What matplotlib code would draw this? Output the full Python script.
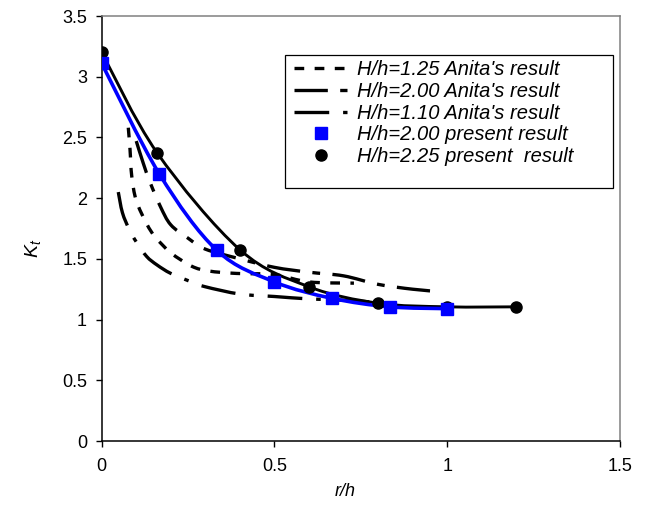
import matplotlib
matplotlib.use("Agg")
import matplotlib.pyplot as plt
import numpy as np
from matplotlib.path import Path
from matplotlib.patches import PathPatch, Rectangle
from matplotlib.lines import Line2D

x_a125 = [0.077, 0.082, 0.087, 0.10, 0.13, 0.155, 0.20, 0.26, 0.31, 0.39, 0.50, 0.60, 0.73]
y_a125 = [2.58, 2.40, 2.18, 1.98, 1.79, 1.68, 1.55, 1.44, 1.40, 1.38, 1.37, 1.31, 1.30]

x_a200 = [0.10, 0.12, 0.14, 0.17, 0.20, 0.25, 0.30, 0.40, 0.50, 0.60, 0.70, 0.80, 0.90, 0.98]
y_a200 = [2.47, 2.29, 2.13, 1.93, 1.78, 1.67, 1.58, 1.50, 1.43, 1.39, 1.36, 1.29, 1.25, 1.23]

x_a110 = [0.048, 0.06, 0.08, 0.10, 0.13, 0.16, 0.20, 0.26, 0.30, 0.40, 0.50, 0.60, 0.70, 0.80]
y_a110 = [2.05, 1.88, 1.74, 1.64, 1.52, 1.45, 1.38, 1.31, 1.27, 1.21, 1.19, 1.17, 1.16, 1.14]

# present results
x_p200 = [0, 1/6, 1/3, 0.5, 2/3, 5/6, 1.0]
y_p200 = [3.11, 2.20, 1.57, 1.31, 1.175, 1.105, 1.09]

x_p225 = [0, 0.16, 0.40, 0.60, 0.80, 1.00, 1.20]
y_p225 = [3.20, 2.375, 1.575, 1.27, 1.135, 1.105, 1.105]

labels = ["H/h=1.25 Anita's result", "H/h=2.00 Anita's result", "H/h=1.10 Anita's result",
          "H/h=2.00 present result", "H/h=2.25 present  result"]

plt.rcParams['font.family'] = ['Liberation Sans', 'DejaVu Sans']
plt.rcParams['lines.scale_dashes'] = False
plt.rcParams['mathtext.fontset'] = 'custom'
plt.rcParams['mathtext.it'] = 'Liberation Sans:italic'
plt.rcParams['mathtext.rm'] = 'Liberation Sans'


def smooth_path(xs, ys):
    # Excel-style smoothed line: cubic bezier through the points
    p = np.column_stack([xs, ys])
    ext = np.vstack([p[0], p, p[-1]])
    verts = [p[0]]
    codes = [Path.MOVETO]
    for i in range(len(p) - 1):
        p0, p1, p2, p3 = ext[i], ext[i + 1], ext[i + 2], ext[i + 3]
        verts += [p1 + (p2 - p0) / 6, p2 - (p3 - p1) / 6, p2]
        codes += [Path.CURVE4] * 3
    return Path(verts, codes)


dash125 = (0, (7, 7.5))
dash200 = (0, (24, 8.9, 5.6, 8.9))
dash110 = (0, (25, 10, 3.3, 10))

fig = plt.figure(figsize=(6.48, 5.08), dpi=100)
ax = fig.add_axes([101.7 / 648, 67 / 508, (620 - 101.7) / 648, (441 - 16) / 508])

for xs, ys, ls in [(x_a125, y_a125, dash125), (x_a200, y_a200, dash200), (x_a110, y_a110, dash110)]:
    ax.add_patch(PathPatch(smooth_path(xs, ys), fill=False, edgecolor='black',
                           linewidth=2.4, linestyle=ls, capstyle='butt'))

ax.add_patch(PathPatch(smooth_path(x_p225, y_p225), fill=False, edgecolor='black', linewidth=2.1))
ax.plot(x_p225, y_p225, 'o', color='black', markersize=8, zorder=4)
ax.add_patch(PathPatch(smooth_path(x_p200, y_p200), fill=False, edgecolor='#0000ff', linewidth=2.6,
                       zorder=3))
ax.plot(x_p200, y_p200, 's', color='#0000ff', markersize=8.5, zorder=5)

ax.set_xlim(0, 1.5)
ax.set_ylim(0, 3.5)
ax.set_xticks([0, 0.5, 1, 1.5])
ax.set_xticklabels(['0', '0.5', '1', '1.5'])
ax.set_yticks(np.arange(0, 3.51, 0.5))
ax.set_yticklabels(['0', '0.5', '1', '1.5', '2', '2.5', '3', '3.5'])
ax.tick_params(axis='both', direction='out', length=4.5, width=1, labelsize=13, colors='black')
ax.tick_params(axis='x', pad=8)
ax.tick_params(axis='y', pad=6)
for s in ['left', 'bottom']:
    ax.spines[s].set_color('black')
    ax.spines[s].set_linewidth(1.1)
for s in ['top', 'right']:
    ax.spines[s].set_color('#808080')
    ax.spines[s].set_linewidth(1.1)

fig.text(345 / 648, 1 - 492 / 508, 'r/h', fontsize=13, style='italic', ha='center', va='center')
fig.text(33 / 648, 1 - 248 / 508, r'$K_t$', fontsize=14, rotation=90, ha='center', va='center')

handles = [
    Line2D([], [], color='black', lw=2.4, linestyle=dash125),
    Line2D([], [], color='black', lw=2.4, linestyle=dash200),
    Line2D([], [], color='black', lw=2.4, linestyle=dash110),
    Line2D([], [], color='#0000ff', marker='s', linestyle='none', markersize=8.5),
    Line2D([], [], color='black', marker='o', linestyle='none', markersize=8),
]
leg = ax.legend(handles, labels, loc='upper left', bbox_to_anchor=(294 / 648, 1 - 60 / 508),
                bbox_transform=fig.transFigure, frameon=False, borderpad=0, borderaxespad=0,
                handlelength=2.65, handletextpad=0.5, labelspacing=0.14,
                prop={'size': 14.5, 'style': 'italic'})
fig.patches.append(Rectangle((285 / 648, 1 - 188 / 508), (613 - 285) / 648, (188 - 55) / 508,
                             transform=fig.transFigure, fill=False, edgecolor='black', linewidth=0.9))

fig.savefig('out.png', dpi=100)
